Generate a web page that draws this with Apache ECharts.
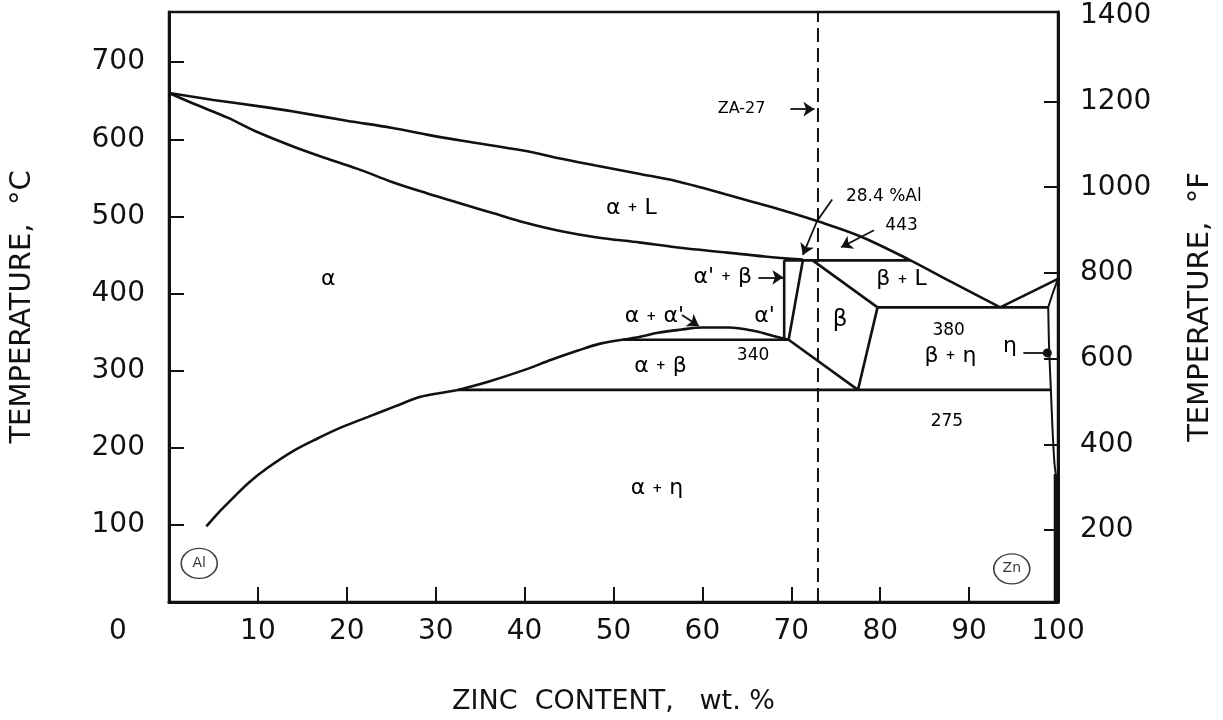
<!DOCTYPE html>
<html><head><meta charset="utf-8">
<script src="https://cdn.jsdelivr.net/npm/echarts@6/dist/echarts.min.js"></script>
<style>html,body{margin:0;padding:0;background:#fff}#c{width:1223px;height:720px}</style>
</head><body><div id="c"></div>
<script>
// ---- axis ticks / labels ----
const xTickValues = [10, 20, 30, 40, 50, 60, 70, 80, 90];
const xLabelValues = [0, 10, 20, 30, 40, 50, 60, 70, 80, 90, 100];
const cTickValues = [100, 200, 300, 400, 500, 600, 700];
const fTickValues = [200, 400, 600, 800, 1000, 1200];
const fLabelValues = [200, 400, 600, 800, 1000, 1200, 1400];

// ---- phase boundaries: [wt% Zn, °C] ----
const liquidusAl = [[0,660],[5,651],[10,643],[14,636],[20,624],[25,615],[29,606],[33,598],[40,585],[44,575],[48,566],[53,555],[57,546],[60,537],[65,521],[69,508],[72.9,494],[77.8,474],[83.4,443],[88,415],[93.5,382]];
const liquidusZn = [[93.5,382],[100,419]];
const solidusAl = [[0,660],[3,645],[6.6,628],[10,609],[14.1,590],[18,574],[21.6,560],[25,545],[29,530],[33,516],[36.5,504],[40,492],[44,481],[48,473],[53,466],[57,460],[62.8,453],[67,448],[71.3,444]];
const peritectic443 = [[69.2,443],[83.4,443]];
const alphaPrimeLine = [[69.2,340],[69.2,443]];
const alphaPrimeBetaLine = [[69.7,340],[71.3,443]];
const betaLiquidus = [[72.4,443],[79.7,382]];
const betaEtaLine = [[79.7,382],[77.5,275]];
const betaAlphaLine = [[69.7,340],[77.5,275]];
const eutectic382 = [[79.7,382],[98.9,382]];
const eutectoid275 = [[32.5,275],[99.2,275]];
const monotectoid340 = [[51,340],[69.7,340]];
const miscibilityDome = [[51,340],[53,344],[55,349],[57.5,353],[60,356],[63,356],[66,351],[68,345],[69.7,340]];
const alphaBetaSolvus = [[32.5,275],[36,286],[40,301],[43,314],[46,326],[48.5,335],[51,340]];
const alphaSolvusLow = [[4.2,98],[5.5,115],[7.3,136],[9,155],[11.1,174],[14,196],[16.7,212],[19.5,227],[22.4,240],[25.5,254],[28.3,266],[30.5,271],[32.5,275]];
const etaSolvus = [[98.9,382],[99.0,330],[99.2,275],[99.4,220],[99.6,180],[99.75,166]];
const etaThin = [[99.8,166],[99.8,0]];
const etaSolidus = [[98.9,382],[99.4,400],[100,419]];
const za27 = [[73,0],[73,765]];

// ---- annotations: [text, wt% Zn, °C, fontSize] ----
const phaseLabels = [
  ['α', 17.9, 419, 22],
  ['α + L', 52, 511, 22],
  ["α' + β", 62.3, 421, 22],
  ["α + α'", 54.6, 370, 22],
  ["α'", 67, 370, 22],
  ['α + β', 55.3, 306, 22],
  ['β', 75.5, 365, 23],
  ['β + L', 82.4, 418, 22],
  ['β + η', 87.9, 319, 22],
  ['η', 94.6, 331, 22],
  ['α + η', 54.9, 147, 22]
];
const numberLabels = [
  ['340', 65.7, 320, 17],
  ['443', 82.4, 488, 17],
  ['28.4 %Al', 80.4, 526, 17],
  ['380', 87.7, 352, 17],
  ['275', 87.5, 234, 17],
  ['ZA-27', 64.4, 640, 16]
];
const elementCircles = [['Al', 3.4, 50], ['Zn', 94.8, 43]];
const leaderLines = [
  [[74.6,522],[72.9,494]]
];
const arrowLines = [
  [[69.9,639],[72.6,639]],
  [[66.3,421],[69.1,421]],
  [[57.7,372],[59.6,358]],
  [[79.3,482],[75.6,460]],
  [[72.9,494],[71.3,450]]
];
const dotLines = [ [[96.1,323],[98.8,323]] ];

const FONT = 'DejaVu Sans';
const INK = '#111111';

function curve(data, smooth, width) {
  return { type: 'line', data: data, smooth: smooth ? 0.35 : false, showSymbol: false, symbol: 'none',
    lineStyle: { color: INK, width: width || 2.6 }, silent: true, z: 3, clip: false };
}
function segs(list, sym, size) {
  return { type: 'lines', coordinateSystem: 'cartesian2d', polyline: false, silent: true, z: 4,
    symbol: ['none', sym], symbolSize: size,
    itemStyle: { color: INK },
    lineStyle: { color: INK, width: 1.8, curveness: 0, opacity: 1 },
    data: list.map(c => ({ coords: c })) };
}

const labelData = phaseLabels.concat(numberLabels).map(l => ({
  name: l[0], value: [l[1], l[2]],
  label: { fontSize: l[3] }
}));

const option = {
  animation: false,
  backgroundColor: '#fff',
  grid: { left: 168, right: 165, top: 12, bottom: 106, show: true, borderColor: INK, borderWidth: 2.5, backgroundColor: 'transparent' },
  xAxis: {
    type: 'value', min: 0, max: 100,
    name: 'ZINC  CONTENT,   wt. %', nameLocation: 'middle', nameGap: 86,
    nameTextStyle: { fontFamily: FONT, fontSize: 27, color: INK },
    axisLine: { show: true, onZero: false, lineStyle: { color: INK, width: 3 } },
    axisTick: { show: true, inside: true, length: 15, customValues: xTickValues, lineStyle: { color: INK, width: 2 } },
    axisLabel: {
      customValues: xLabelValues, margin: 16, fontFamily: FONT, fontSize: 28, color: INK,
      formatter: v => v === 0 ? '{z|0}' : String(v),
      rich: { z: { fontFamily: FONT, fontSize: 28, color: INK, padding: [0, 102, 0, 0] } }
    },
    splitLine: { show: false }
  },
  yAxis: [
    {
      type: 'value', min: 0, max: 765, position: 'left',
      name: 'TEMPERATURE,  °C', nameLocation: 'middle', nameGap: 132, nameRotate: 90,
      nameTextStyle: { fontFamily: FONT, fontSize: 29, color: INK },
      axisLine: { show: true, onZero: false, lineStyle: { color: INK, width: 3 } },
      axisTick: { show: true, inside: true, length: 15, customValues: cTickValues, lineStyle: { color: INK, width: 2 } },
      axisLabel: { customValues: cTickValues, margin: 24, fontFamily: FONT, fontSize: 28, color: INK },
      splitLine: { show: false }
    },
    {
      type: 'value', min: 32, max: 1409, position: 'right',
      name: 'TEMPERATURE,  °F', nameLocation: 'middle', nameGap: 128, nameRotate: 90,
      nameTextStyle: { fontFamily: FONT, fontSize: 29, color: INK },
      axisLine: { show: true, onZero: false, lineStyle: { color: INK, width: 3 } },
      axisTick: { show: true, inside: true, length: 14, customValues: fTickValues, lineStyle: { color: INK, width: 2 } },
      axisLabel: { customValues: fLabelValues, margin: 22, fontFamily: FONT, fontSize: 28, color: INK,
        formatter: v => String(v) },
      splitLine: { show: false }
    }
  ],
  series: [
    curve(liquidusAl, true),
    curve(liquidusZn, false),
    curve(solidusAl, true),
    curve(peritectic443, false),
    curve(alphaPrimeLine, false),
    curve(alphaPrimeBetaLine, false),
    curve(betaLiquidus, false),
    curve(betaEtaLine, false),
    curve(betaAlphaLine, false),
    curve(eutectic382, false),
    curve(eutectoid275, false),
    curve(monotectoid340, false),
    curve(miscibilityDome, true),
    curve(alphaBetaSolvus, true),
    curve(alphaSolvusLow, true),
    curve(etaSolvus, true, 2),
    curve(etaThin, false, 5),
    curve(etaSolidus, true, 2),
    { type: 'line', data: za27, showSymbol: false, symbol: 'none', silent: true, z: 2,
      lineStyle: { color: INK, width: 2, type: [14, 6] } },
    segs(leaderLines, 'none', 1),
    segs(arrowLines, 'arrow', 11),
    segs(dotLines, 'circle', 9),
    { type: 'scatter', silent: true, z: 5, symbolSize: 1, itemStyle: { color: '#ffffff', opacity: 1 },
      data: labelData,
      label: { show: true, position: 'inside', fontFamily: FONT, color: '#000', opacity: 1, textBorderWidth: 0,
        formatter: p => p.name.replace(' + ', ' {p|+} '),
        rich: { p: { fontFamily: FONT, fontSize: 12, fontWeight: 'bold', color: '#000', textBorderWidth: 0 } } } },
    { type: 'scatter', silent: true, z: 5, symbol: 'circle', symbolSize: [36, 30],
      itemStyle: { color: '#fff', borderColor: INK, borderWidth: 1.5 },
      data: elementCircles.map(e => ({ name: e[0], value: [e[1], e[2]] })),
      label: { show: true, position: 'inside', formatter: p => p.name, fontFamily: FONT, fontSize: 14, color: '#000', textBorderWidth: 0 } }
  ]
};

const chart = echarts.init(document.getElementById('c'), null, { renderer: 'canvas' });
chart.setOption(option);
</script>
</body></html>
